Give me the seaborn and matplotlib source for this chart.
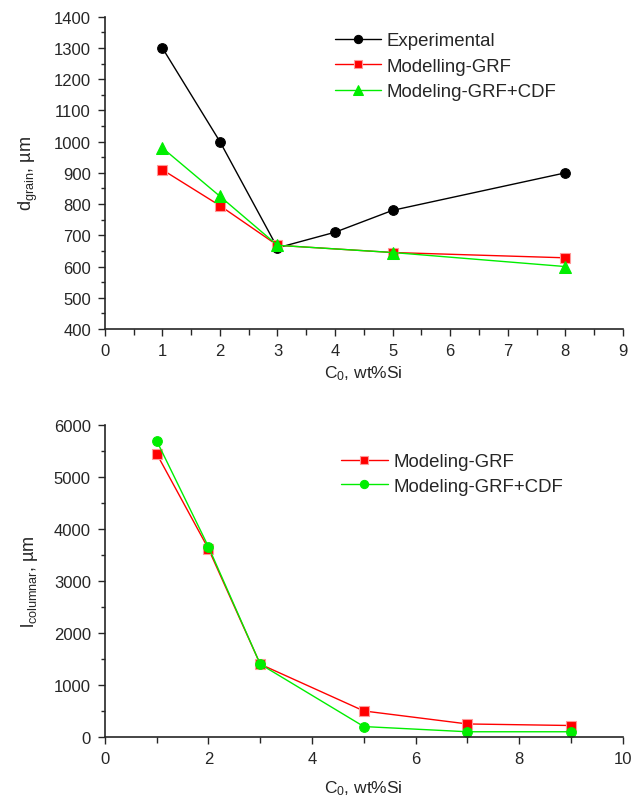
import numpy as np
import pandas as pd
import matplotlib
matplotlib.use("Agg")
import matplotlib.pyplot as plt
from matplotlib.ticker import MultipleLocator
import seaborn as sns

# --- data ---
c0_exp = [1, 2, 3, 4, 5, 8]
d_exp = [1300, 1000, 660, 710, 780, 900]
c0_mod = [1, 2, 3, 5, 8]
d_grf = [910, 795, 668, 645, 628]
d_grf_cdf = [980, 825, 668, 645, 600]

c0_col = [1, 2, 3, 5, 7, 9]
l_grf = [5450, 3620, 1400, 500, 250, 220]
l_grf_cdf = [5700, 3660, 1400, 200, 100, 100]

RED = "#ff0000"
GREEN = "#00ee00"

sns.set_style("ticks")
plt.rcParams['font.family'] = ['Liberation Sans', 'DejaVu Sans']
plt.rcParams['mathtext.default'] = 'regular'
plt.rcParams['font.size'] = 12
plt.rcParams['axes.linewidth'] = 1.2

fig = plt.figure(figsize=(6.35, 8.03), dpi=100)
ax1 = fig.add_axes([0.165, 0.589, 0.816, 0.389])
ax2 = fig.add_axes([0.165, 0.081, 0.816, 0.3885])

# top panel
sns.lineplot(x=c0_exp, y=d_exp, ax=ax1, color="black", marker="o", markersize=7,
             markeredgecolor="black", linewidth=1, label="Experimental")
sns.lineplot(x=c0_mod, y=d_grf, ax=ax1, color=RED, marker="s", markersize=7,
             markeredgecolor="#ff9999", markeredgewidth=0.8, linewidth=1, label="Modelling-GRF")
sns.lineplot(x=c0_mod, y=d_grf_cdf, ax=ax1, color=GREEN, marker="^", markersize=8,
             markeredgecolor=GREEN, linewidth=1, label="Modeling-GRF+CDF")
ax1.set_xlim(0, 9)
ax1.set_ylim(400, 1400)
ax1.xaxis.set_major_locator(MultipleLocator(1))
ax1.xaxis.set_minor_locator(MultipleLocator(0.5))
ax1.yaxis.set_major_locator(MultipleLocator(100))
ax1.yaxis.set_minor_locator(MultipleLocator(50))
ax1.set_xlabel("C$_0$, wt%Si", fontsize=12.5, labelpad=4)
ax1.set_ylabel("d$_{grain}$, µm", fontsize=13, labelpad=10)
ax1.legend(loc="upper left", bbox_to_anchor=(0.444, 0.950), frameon=False,
           borderpad=0, borderaxespad=0, fontsize=13.4, handlelength=2.5,
           handletextpad=0.3, labelspacing=0.45, markerscale=0.85)

# bottom panel
sns.lineplot(x=c0_col, y=l_grf, ax=ax2, color=RED, marker="s", markersize=7,
             markeredgecolor="#ff9999", markeredgewidth=0.8, linewidth=1, label="Modeling-GRF")
sns.lineplot(x=c0_col, y=l_grf_cdf, ax=ax2, color=GREEN, marker="o", markersize=7,
             markeredgecolor=GREEN, linewidth=1, label="Modeling-GRF+CDF")
ax2.set_xlim(0, 10)
ax2.set_ylim(0, 6000)
ax2.xaxis.set_major_locator(MultipleLocator(2))
ax2.xaxis.set_minor_locator(MultipleLocator(1))
ax2.yaxis.set_major_locator(MultipleLocator(1000))
ax2.yaxis.set_minor_locator(MultipleLocator(500))
ax2.set_xlabel("C$_0$, wt%Si", fontsize=12.5, labelpad=9)
ax2.set_ylabel("l$_{columnar}$, µm", fontsize=13, labelpad=10)
ax2.legend(loc="upper left", bbox_to_anchor=(0.456, 0.910), frameon=False,
           borderpad=0, borderaxespad=0, fontsize=13.4, handlelength=2.5,
           handletextpad=0.3, labelspacing=0.4, markerscale=0.85)

for ax in (ax1, ax2):
    sns.despine(ax=ax)
    ax.tick_params(which="major", direction="out", length=5, width=1, pad=5)
    ax.tick_params(which="minor", direction="out", length=3, width=1)
    ax.tick_params(axis="x", which="minor", length=4)

fig.savefig("out.png", dpi=100)
